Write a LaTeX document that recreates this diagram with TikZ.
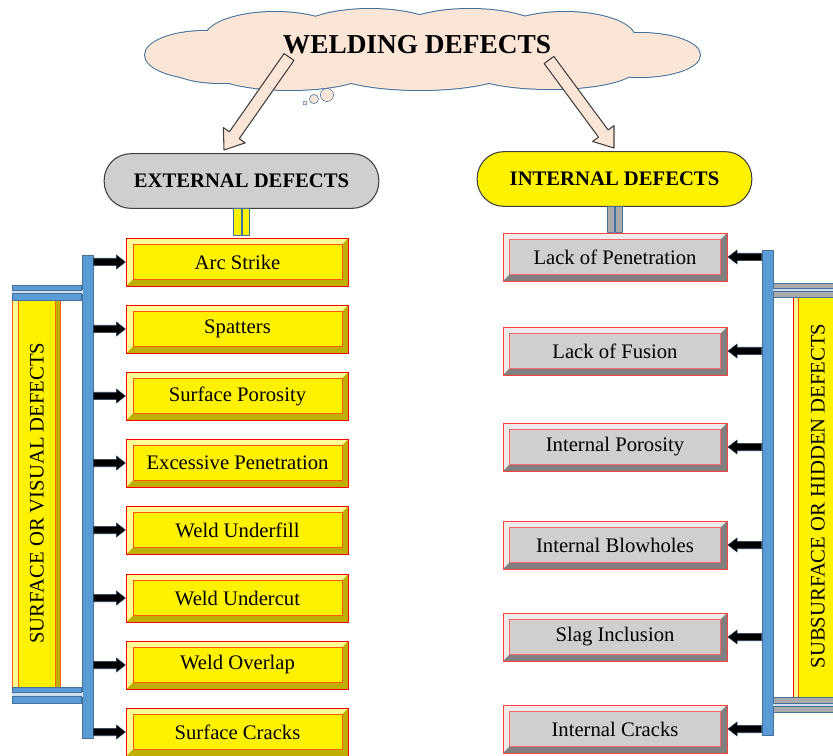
\documentclass[tikz,border=0pt]{standalone}
\usepackage{fontspec}
\setmainfont{Liberation Serif}
\usetikzlibrary{calc}

\definecolor{peach}{RGB}{251,229,214}
\definecolor{cloudblue}{RGB}{65,113,156}
\definecolor{barblue}{RGB}{91,155,213}
\definecolor{gapblue}{RGB}{205,222,240}
\definecolor{headgray}{RGB}{208,206,207}
\definecolor{barsgray}{RGB}{170,170,170}
\definecolor{paleyellow}{RGB}{255,255,150}
\definecolor{oliveshade}{RGB}{190,175,0}
\definecolor{palegray}{RGB}{236,236,236}
\definecolor{darkshade}{RGB}{128,128,128}

\newcommand{\fatarrow}[6]{
  \coordinate (fa-h) at ($(#6)!#4!(#5)$);
  \filldraw[#1] ($(#5)!#2!90:(#6)$) -- ($(fa-h)!#2!90:(#6)$) -- ($(fa-h)!#3!90:(#6)$) -- (#6)
    -- ($(fa-h)!#3!-90:(#6)$) -- ($(fa-h)!#2!-90:(#6)$) -- ($(#5)!#2!-90:(#6)$) -- cycle;
}
\newcommand{\bevelframe}[3]{
  \fill[#1] (path picture bounding box.south west) -- (path picture bounding box.north west)
    -- (path picture bounding box.north east) -- ([shift={(-5pt,-5pt)}]path picture bounding box.north east)
    -- ([shift={(5pt,-5pt)}]path picture bounding box.north west) -- ([shift={(5pt,5pt)}]path picture bounding box.south west) -- cycle;
  \fill[#2] (path picture bounding box.north east) -- (path picture bounding box.south east)
    -- (path picture bounding box.south west) -- ([shift={(5pt,5pt)}]path picture bounding box.south west)
    -- ([shift={(-5pt,5pt)}]path picture bounding box.south east) -- ([shift={(-5pt,-5pt)}]path picture bounding box.north east) -- cycle;
  \draw[#3] ([shift={(5pt,5pt)}]path picture bounding box.south west) rectangle ([shift={(-5pt,-5pt)}]path picture bounding box.north east);
}
\newcommand{\cloudpuffs}{205/55/45/18, 275/38/52.5/19.5, 370/34/56.25/18.75, 470/33/56.25/18,
  565/38/52.5/19.5, 640/55/45/16.5, 220/67/37.5/12, 290/70/60/15, 420/70/67.5/15, 550/69/63.75/15}

\begin{document}
\begin{tikzpicture}[x=0.75pt, y=-0.75pt, line join=round]
	\tikzset{
		head/.style = {rectangle, rounded corners=20pt, draw=black!75, thick, minimum width=206pt, minimum height=41pt, font=\bfseries\fontsize{15.5}{18}\selectfont},
		extbox/.style = {rectangle, draw=red, fill=yellow, minimum width=166.5pt, minimum height=36pt, font=\fontsize{15.5}{18}\selectfont, path picture={\bevelframe{paleyellow}{oliveshade}{orange!70!red}}},
		intbox/.style = {rectangle, draw=red!75, fill=headgray, minimum width=168pt, minimum height=36pt, font=\fontsize{15.5}{18}\selectfont, path picture={\bevelframe{palegray}{darkshade}{red!60}}},
		bar/.style = {rectangle, draw=cloudblue, fill=barblue, minimum width=8.25pt, inner sep=0},
		stem/.style = {draw=cloudblue, semithick},
		sidetext/.style = {rotate=90, font=\fontsize{15.5}{18}\selectfont},
		bigarrow/.style = {draw=black!75, fill=peach, thick},
		smallarrow/.style = {draw=cloudblue!60!black, fill=black, thin},
	}
	\useasboundingbox (0,0) rectangle (833,756);
	\clip (0,0) rectangle (833,756);

	\foreach \cx/\cy/\rx/\ry in \cloudpuffs
		\draw[cloudblue, line width=1.5pt] (\cx,\cy) ellipse [x radius=\rx pt, y radius=\ry pt];
	\foreach \cx/\cy/\rx/\ry in \cloudpuffs
		\fill[peach] (\cx,\cy) ellipse [x radius=\rx pt, y radius=\ry pt];
	\foreach \cx/\cy/\r in {305/103/1.5pt, 314/99/3.4pt, 327/95/4.9pt}
		\filldraw[draw=cloudblue, fill=peach] (\cx,\cy) circle (\r);

	\node[head, fill=headgray] (ext) at (241.5,181) {EXTERNAL DEFECTS};
	\node[head, fill=yellow] (int) at (614.5,179) {INTERNAL DEFECTS};

	\coordinate (ltail) at (289,57);
	\coordinate (ltip) at (224,150);
	\coordinate (rtail) at (549,60);
	\coordinate (rtip) at (614,148);
	\fatarrow{bigarrow}{4.5pt}{10pt}{13.5pt}{ltail}{ltip}
	\fatarrow{bigarrow}{4.5pt}{10pt}{13.5pt}{rtail}{rtip}
	\node[font=\bfseries\fontsize{20.5}{24}\selectfont] (title) at (417,45) {WELDING DEFECTS};

	\draw[stem, fill=yellow] ([xshift=-6pt]ext.south) rectangle ([xshift=-0.4pt,yshift=-20pt]ext.south);
	\draw[stem, fill=yellow] ([xshift=0.4pt]ext.south) rectangle ([xshift=6pt,yshift=-20pt]ext.south);
	\draw[stem, fill=barsgray] ([xshift=-5.6pt]int.south) rectangle ([xshift=-0.4pt,yshift=-19pt]int.south);
	\draw[stem, fill=barsgray] ([xshift=0.4pt]int.south) rectangle ([xshift=5.6pt,yshift=-19pt]int.south);

	\foreach \name/\yy [count=\i] in {Arc Strike/262, Spatters/329, Surface Porosity/396, Excessive Penetration/463,
			Weld Underfill/530, Weld Undercut/598, Weld Overlap/665, Surface Cracks/732}
		\node[extbox] (ext\i) at (237.5,\yy) {\name};
	\foreach \name/\yy [count=\i] in {Lack of Penetration/257, Lack of Fusion/351, Internal Porosity/447,
			Internal Blowholes/545, Slag Inclusion/637, Internal Cracks/729}
		\node[intbox] (int\i) at (615,\yy) {\name};

	\node[bar, minimum height=362pt] (lbar) at (87.5,496.5) {};
	\node[bar, minimum height=364pt] (rbar) at (767.5,492.5) {};
	\foreach \i in {1,...,8} {
		\coordinate (la\i) at (lbar.east |- ext\i.west);
		\coordinate (lb\i) at ([xshift=-0.6pt]ext\i.west);
		\fatarrow{smallarrow}{2.8pt}{5.3pt}{6.8pt}{la\i}{lb\i}
	}
	\foreach \i in {1,...,6} {
		\coordinate (ra\i) at (rbar.west |- int\i.east);
		\coordinate (rb\i) at ([xshift=0.6pt]int\i.east);
		\fatarrow{smallarrow}{2.8pt}{5.3pt}{6.8pt}{ra\i}{rb\i}
	}

	\fill[yellow] (12,300) rectangle (61,687);
	\fill[paleyellow] (13,300) rectangle (18,687);
	\fill[oliveshade] (55,300) rectangle (60,687);
	\draw[orange!75!red, semithick] (12.5,300) -- (12.5,687) (18,300) -- (18,687) (55,300) -- (55,687) (60.5,300) -- (60.5,687);
	\node[sidetext] (surf) at (37,493) {SURFACE OR VISUAL DEFECTS};
	\fill[gapblue] (12,290) rectangle (83,294);
	\fill[gapblue] (12,692) rectangle (83,697);
	\foreach \ya/\yb in {285/290.5, 293.5/300, 687/692.5, 696.5/703}
		\draw[draw=cloudblue, fill=barblue] (12,\ya) rectangle (lbar.west |- 0,\yb);

	\fill[yellow] (793,297) rectangle (845,697);
	\fill[paleyellow] (794,297) rectangle (798,697);
	\draw[red, semithick] (793.5,297) -- (793.5,697);
	\draw[orange!75!red, semithick] (798.5,297) -- (798.5,697);
	\node[sidetext] (subs) at (818,496) {SUBSURFACE OR HIDDEN DEFECTS};
	\fill[gapblue] (773,288) rectangle (840,292);
	\fill[gapblue] (773,702) rectangle (840,707);
	\foreach \ya/\yb in {283/288.5, 291.5/297, 697/703, 706/712}
		\draw[draw=cloudblue, fill=barsgray] (rbar.east |- 0,\ya) rectangle (840,\yb);
\end{tikzpicture}
\end{document}
